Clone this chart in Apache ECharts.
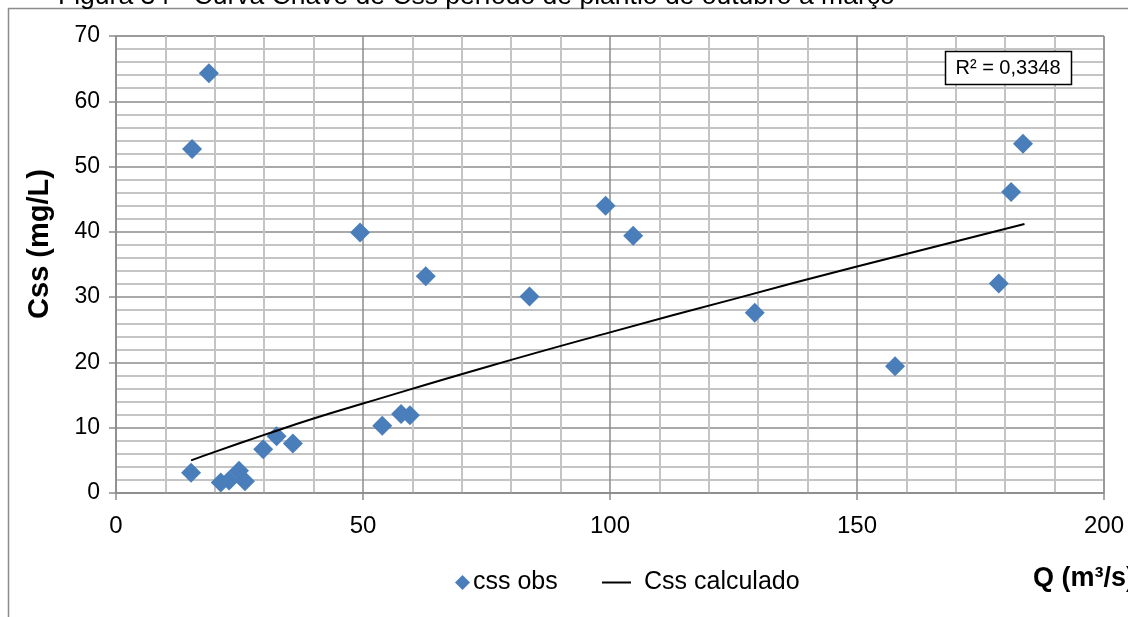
<!DOCTYPE html>
<html>
<head>
<meta charset="utf-8">
<script src="https://cdn.jsdelivr.net/npm/echarts@6/dist/echarts.min.js"></script>
<style>
  html, body { margin: 0; padding: 0; background: #fff; }
  #chart { width: 1128px; height: 617px; }
</style>
</head>
<body>
<div id="chart"></div>
<script>
// Observed suspended sediment concentration vs. discharge
const obsQ   = [15.2, 15.4, 18.8, 21.2, 22.9, 24.9, 26.1, 29.8, 32.5, 35.8, 49.4, 53.9, 57.7, 59.5, 62.7, 83.7, 99.1, 104.7, 129.3, 157.7, 178.7, 181.2, 183.6];
const obsCss = [3.1, 52.7, 64.3, 1.6, 1.9, 3.4, 1.8, 6.7, 8.7, 7.6, 39.9, 10.3, 12.1, 11.9, 33.2, 30.1, 44.0, 39.4, 27.6, 19.4, 32.1, 46.1, 53.5];

// Rating curve (calculated Css) read along its length
const calcQ   = [15.2, 20, 30, 40, 50, 75, 100, 125, 150, 183.9];
const calcCss = [5.0, 6.3, 8.9, 11.4, 13.7, 19.3, 24.6, 29.7, 34.7, 41.2];

const xTicks = [0, 50, 100, 150, 200];
const yTicks = [0, 10, 20, 30, 40, 50, 60, 70];

const titleText = 'Figura 34 - Curva Chave de Css período de plantio de outubro a março';
const r2Text = 'R² = 0,3348';
const yTitle = 'Css (mg/L)';
const xTitle = 'Q (m³/s)';

const FONT = '"Liberation Sans", Arial, sans-serif';
const MARKER = '#4a7ebb';
const chart = echarts.init(document.getElementById('chart'));

chart.setOption({
  animation: false,
  backgroundColor: '#fff',
  grid: { left: 116, right: 24, top: 36, bottom: 124, show: true, borderColor: '#8c8c8c', borderWidth: 1 },
  xAxis: {
    type: 'value', min: xTicks[0], max: xTicks[xTicks.length - 1], interval: 50,
    axisLine: { show: true, onZero: false, lineStyle: { color: '#8c8c8c', width: 1.5 } },
    axisTick: { show: true, length: 7, lineStyle: { color: '#8c8c8c', width: 1.5 } },
    axisLabel: { color: '#000', fontFamily: FONT, fontSize: 24, margin: 21 },
    splitLine: { show: true, lineStyle: { color: '#8c8c8c', width: 1.5 } },
    minorTick: { show: false, splitNumber: 5 },
    minorSplitLine: { show: true, lineStyle: { color: '#c4c4c4', width: 2 } }
  },
  yAxis: {
    type: 'value', min: yTicks[0], max: yTicks[yTicks.length - 1], interval: 10,
    axisLine: { show: true, onZero: false, lineStyle: { color: '#8c8c8c', width: 1.5 } },
    axisTick: { show: true, length: 7, lineStyle: { color: '#8c8c8c', width: 1.5 } },
    axisLabel: { color: '#000', fontFamily: FONT, fontSize: 23, margin: 16 },
    splitLine: { show: true, lineStyle: { color: '#8c8c8c', width: 1.5 } },
    minorTick: { show: false, splitNumber: 5 },
    minorSplitLine: { show: true, lineStyle: { color: '#c4c4c4', width: 2 } }
  },
  legend: [
    {
      left: 450, top: 565, itemWidth: 15, itemHeight: 15,
      textStyle: { color: '#000', fontFamily: FONT, fontSize: 25, padding: [0, 0, 0, -2] },
      data: [{ name: 'css obs', icon: 'diamond', itemStyle: { color: MARKER } }]
    },
    {
      left: 597, top: 565, itemWidth: 29, itemHeight: 2,
      textStyle: { color: '#000', fontFamily: FONT, fontSize: 25, padding: [0, 0, 0, 8] },
      data: [{ name: 'Css calculado', icon: 'rect', itemStyle: { color: '#000' } }]
    }
  ],
  series: [
    {
      name: 'css obs', type: 'scatter', symbol: 'diamond', symbolSize: 20,
      itemStyle: { color: MARKER, opacity: 1 },
      data: obsQ.map((q, i) => [q, obsCss[i]]),
      z: 3
    },
    {
      name: 'Css calculado', type: 'line', smooth: true, showSymbol: false, symbol: 'none',
      lineStyle: { color: '#000', width: 2 }, itemStyle: { color: '#000' },
      data: calcQ.map((q, i) => [q, calcCss[i]]),
      z: 4
    }
  ],
  graphic: [
    { type: 'polyline', shape: { points: [[8.5, 617], [8.5, 8.5], [1128, 8.5]] },
      style: { stroke: '#8c8c8c', lineWidth: 1.5, fill: null }, silent: true },
    { type: 'text', left: 58, top: -17,
      style: { text: titleText, fill: '#000', fontFamily: FONT, fontSize: 26.5 } },
    { type: 'rect', shape: { x: 945.5, y: 51.5, width: 126, height: 33 },
      style: { fill: '#fff', stroke: '#000', lineWidth: 1.5 }, z: 10 },
    { type: 'text', x: 1008, y: 68, z: 11,
      style: { text: r2Text, fill: '#000', fontFamily: FONT, fontSize: 20, align: 'center', verticalAlign: 'middle' } },
    { type: 'text', x: 40, y: 244, rotation: Math.PI / 2,
      style: { text: yTitle, fill: '#000', fontFamily: FONT, fontSize: 29, fontWeight: 'bold', align: 'center', verticalAlign: 'middle' } },
    { type: 'text', x: 1033, y: 579,
      style: { text: xTitle, fill: '#000', fontFamily: FONT, fontSize: 27, fontWeight: 'bold', verticalAlign: 'middle' } }
  ]
});
</script>
</body>
</html>
